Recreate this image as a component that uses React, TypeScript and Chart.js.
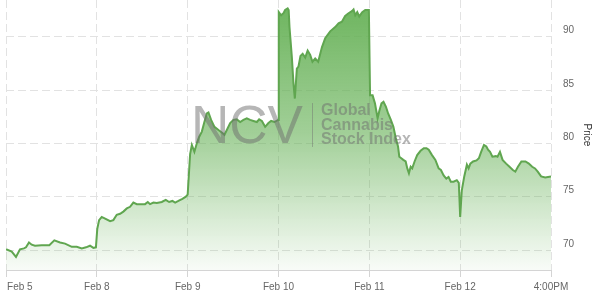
import { useEffect, useRef } from 'react';
import { Chart, registerables } from 'chart.js';

Chart.register(...registerables);

// X axis: trading sessions since the Feb 5 open (one unit = one session)
const xTickValues = [0, 1, 2, 3, 4, 5, 6];
const xTickLabels = ['Feb 5', 'Feb 8', 'Feb 9', 'Feb 10', 'Feb 11', 'Feb 12', '4:00PM'];

// Y axis
const yTickValues = [70, 75, 80, 85, 90];
const yMin = 68.125;
const yMax = 93.44;
const yTitle = 'Price';

// Series: time (sessions) and price
const sessionTimes = [
  0.000, 0.063, 0.110, 0.154, 0.198, 0.220, 0.253, 0.283, 0.319, 0.393, 0.477, 0.532, 0.595, 0.650, 0.724, 0.779, 0.834, 0.881, 0.925, 0.962, 0.990,
  1.005, 1.025, 1.054, 1.091, 1.146, 1.182, 1.219, 1.256, 1.292, 1.330, 1.366, 1.402, 1.440, 1.476, 1.531, 1.561, 1.586, 1.623, 1.660, 1.715, 1.759, 1.796, 1.832, 1.862, 1.898, 1.942, 1.980,
  2.000, 2.027, 2.046, 2.074, 2.101, 2.126, 2.156, 2.184, 2.211, 2.229, 2.258, 2.295, 2.339, 2.379, 2.405, 2.431, 2.468, 2.504, 2.541, 2.578, 2.614, 2.651, 2.688, 2.724, 2.762, 2.787, 2.817, 2.853, 2.889, 2.919, 2.956, 2.995,
  3.003, 3.029, 3.055, 3.073, 3.101, 3.112, 3.121, 3.147, 3.165, 3.180, 3.202, 3.220, 3.242, 3.266, 3.294, 3.321, 3.349, 3.374, 3.404, 3.437, 3.478, 3.514, 3.569, 3.624, 3.661, 3.698, 3.734, 3.771, 3.808, 3.826, 3.845, 3.867, 3.889, 3.922, 3.955, 3.995,
  4.008, 4.036, 4.062, 4.091, 4.109, 4.134, 4.156, 4.182, 4.207, 4.237, 4.265, 4.291, 4.316, 4.330, 4.352, 4.374, 4.400, 4.418, 4.436, 4.455, 4.472, 4.498, 4.527, 4.564, 4.600, 4.629, 4.654, 4.690, 4.727, 4.763, 4.788, 4.818, 4.847, 4.872, 4.897, 4.927, 4.963, 4.985,
  5.000, 5.018, 5.045, 5.074, 5.093, 5.112, 5.142, 5.180, 5.206, 5.231, 5.262, 5.288, 5.307, 5.329, 5.355, 5.393, 5.411, 5.438, 5.467, 5.506, 5.543, 5.580, 5.607, 5.636, 5.674, 5.719, 5.756, 5.793, 5.824, 5.854, 5.891, 5.936, 6.000,
];

const prices = [
  70.07, 69.85, 69.35, 70.07, 70.15, 70.25, 70.7, 70.5, 70.4, 70.45, 70.45, 70.9, 70.7, 70.6, 70.3, 70.3, 70.15, 70.25, 70.4, 70.2, 70.25,
  72.0, 72.8, 73.1, 72.95, 72.7, 72.8, 73.3, 73.4, 73.6, 73.9, 74.05, 74.45, 74.3, 74.3, 74.3, 74.5, 74.3, 74.45, 74.4, 74.5, 74.7, 74.5, 74.6, 74.45, 74.6, 74.8, 75.0,
  75.2, 79.0, 79.85, 79.2, 80.0, 80.6, 81.1, 82.0, 82.8, 82.9, 82.2, 81.55, 81.25, 81.0, 80.8, 81.25, 81.9, 82.2, 82.25, 82.0, 82.2, 82.35, 82.2, 82.1, 82.0, 82.25, 82.1, 81.55, 81.9, 82.1, 82.0, 82.2,
  92.3, 92.0, 92.2, 92.5, 92.65, 92.5, 90.9, 88.1, 85.6, 84.2, 87.0, 87.2, 88.2, 88.4, 88.05, 88.7, 88.3, 87.65, 87.95, 87.65, 89.0, 89.85, 90.5, 90.9, 91.25, 91.4, 91.95, 92.2, 92.4, 92.55, 92.0, 92.3, 91.9, 92.3, 92.5, 92.5,
  84.5, 84.5, 83.75, 82.35, 83.0, 83.75, 83.9, 83.45, 82.8, 82.2, 81.55, 80.5, 79.7, 78.75, 78.6, 78.45, 78.3, 77.65, 77.2, 77.8, 77.65, 78.3, 78.9, 79.3, 79.55, 79.55, 79.4, 78.9, 78.45, 77.65, 77.5, 77.0, 76.7, 76.85, 76.4, 76.4, 76.55, 76.3,
  73.1, 75.6, 76.9, 78.0, 77.65, 78.1, 78.3, 78.4, 78.6, 79.2, 79.85, 79.7, 79.4, 79.2, 78.75, 78.8, 78.75, 79.2, 78.45, 78.1, 77.8, 77.5, 77.35, 77.8, 78.3, 78.3, 78.1, 77.8, 77.65, 77.35, 76.9, 76.8, 76.9,
];

const watermarkBig = 'NCV';
const watermarkLines = ['Global', 'Cannabis', 'Stock Index'];

const FONT = '"Liberation Sans", Arial, sans-serif';

const watermarkPlugin = {
  id: 'ncvWatermark',
  afterDatasetsDraw(chart: any) {
    const ctx = chart.ctx as CanvasRenderingContext2D;
    ctx.save();
    ctx.fillStyle = 'rgba(110,110,110,0.5)';
    ctx.textAlign = 'left';
    ctx.textBaseline = 'alphabetic';
    ctx.font = `53px ${FONT}`;
    ctx.fillText(watermarkBig, 191, 143);
    ctx.strokeStyle = 'rgba(110,110,110,0.45)';
    ctx.lineWidth = 1;
    ctx.beginPath();
    ctx.moveTo(312.5, 103);
    ctx.lineTo(312.5, 147);
    ctx.stroke();
    ctx.font = `bold 16px ${FONT}`;
    const baselines = [115, 129.5, 144];
    watermarkLines.forEach((t, i) => ctx.fillText(t, 321, baselines[i]));
    ctx.restore();
  },
};

export default function App() {
  const ref = useRef<HTMLCanvasElement>(null);

  useEffect(() => {
    const canvas = ref.current;
    if (!canvas) return;
    const data = sessionTimes.map((t, i) => ({ x: t, y: prices[i] }));
    const lineColor = 'rgb(96,166,80)';

    const chart = new Chart(canvas, {
      type: 'line',
      data: {
        datasets: [
          {
            data,
            borderColor: lineColor,
            borderWidth: 2,
            pointRadius: 0,
            tension: 0,
            fill: 'start',
            backgroundColor: (c: any) => {
              const area = c.chart.chartArea;
              if (!area) return 'rgba(100,176,84,0.5)';
              const g = c.chart.ctx.createLinearGradient(0, area.top, 0, area.bottom);
              g.addColorStop(0, 'rgba(100,176,84,0.95)');
              g.addColorStop(0.5, 'rgba(100,176,84,0.6)');
              g.addColorStop(1, 'rgba(100,176,84,0.04)');
              return g;
            },
          },
        ],
      },
      options: {
        responsive: false,
        animation: false,
        layout: { padding: { left: 6, top: 0, right: 0, bottom: 0 } },
        plugins: {
          legend: { display: false },
          tooltip: { enabled: false },
        },
        scales: {
          x: {
            type: 'linear',
            position: 'bottom',
            min: xTickValues[0],
            max: xTickValues[xTickValues.length - 1],
            afterBuildTicks: (scale: any) => {
              scale.ticks = xTickValues.map((v) => ({ value: v }));
            },
            afterFit: (scale: any) => {
              scale.height = 27;
              scale.paddingLeft = 0;
              scale.paddingRight = 0;
            },
            grid: {
              color: '#e2e2e2',
              lineWidth: 1,
              drawTicks: true,
              tickLength: 7,
              tickColor: '#d4d4d4',
            },
            border: { display: true, color: '#d4d4d4', dash: [8, 4] },
            ticks: {
              autoSkip: false,
              maxRotation: 0,
              padding: 4,
              color: '#666',
              font: { family: FONT, size: 10 },
              callback: (v: any) => {
                const i = xTickValues.indexOf(Number(v));
                if (i < 0) return '';
                return i === 0 ? '          ' + xTickLabels[i] : xTickLabels[i];
              },
            },
          },
          y: {
            type: 'linear',
            position: 'right',
            min: yMin,
            max: yMax,
            afterBuildTicks: (scale: any) => {
              scale.ticks = yTickValues.map((v) => ({ value: v }));
            },
            afterFit: (scale: any) => {
              scale.width = 49;
              scale.paddingTop = 0;
              scale.paddingBottom = 0;
            },
            grid: { color: '#e2e2e2', lineWidth: 1, drawTicks: false },
            border: { display: false, dash: [8, 4] },
            ticks: {
              padding: 12,
              labelOffset: -6,
              color: '#666',
              font: { family: FONT, size: 10 },
            },
            title: {
              display: true,
              text: yTitle,
              color: '#333',
              font: { family: FONT, size: 10 },
              padding: { top: 7, bottom: 0 },
            },
          },
        },
      },
      plugins: [watermarkPlugin],
    } as any);

    return () => chart.destroy();
  }, []);

  return (
    <div style={{ position: 'absolute', left: 0, top: 0, width: 600, height: 297 }}>
      <canvas ref={ref} width={600} height={297} style={{ display: 'block', width: 600, height: 297 }} />
    </div>
  );
}
